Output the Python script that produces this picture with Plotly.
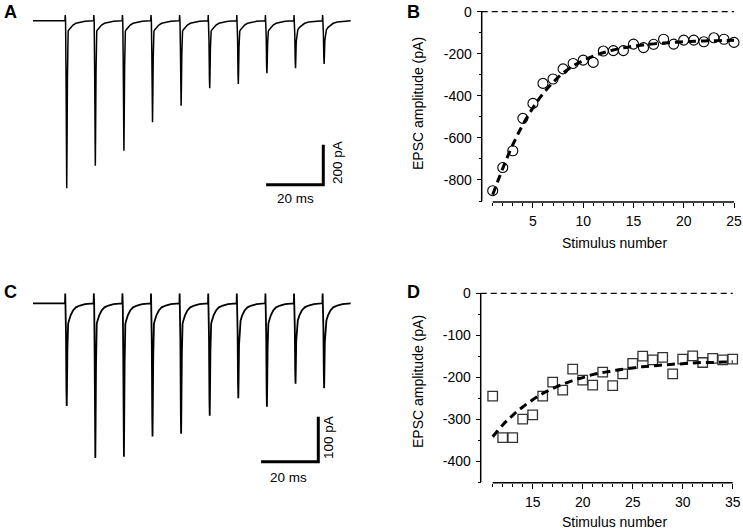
import numpy as np
import plotly.graph_objects as go

W, H = 743, 531

# ---------------- data ----------------
# Panels A / C : EPSC trains (100 Hz), peak amplitudes (pA)
A_AMPLITUDES_PA = [838, 725, 650, 508, 425, 338, 316, 263, 238, 216]
C_AMPLITUDES_PA = [228, 344, 341, 296, 290, 250, 211, 230, 179, 189]
STIM_INTERVAL_MS = 10
TRACE_START_MS = -11.2
TRACE_END_MS = 99.5
# waveform templates (time after stimulus, ms)
FAST_T_MS = [0.0, 0.2, 0.35, 0.5, 0.6, 0.7, 0.85, 1.0, 1.1]
FAST_FRACTION = [0.0, 0.0, 0.3, 0.85, 1.0, 0.75, 0.3, 0.08, 0.0]
ARTIFACT_T_MS = [0.0, 0.08, 0.18]
ARTIFACT_FRACTION = [0.0, 1.0, 0.0]
A_ARTIFACT_PA = 28
C_ARTIFACT_PA = 22
TAIL_T_MS = [0.0, 0.6, 1.0, 1.4, 2.0, 2.8, 3.8, 5.2, 7.0, 9.9]
A_TAIL_PA = [0, 0, -55, -45, -33, -22, -13, -7, -3, 0]
C_TAIL_PA = [0, 0, -48, -38, -26, -16, -9, -5, -2, 0]
A_SCALE_MS, A_SCALE_PA = 20, 200
C_SCALE_MS, C_SCALE_PA = 20, 100

# Panel B
B_STIM = list(range(1, 26))
B_AMP = [-851, -741, -661, -507, -436, -341, -320, -272, -246, -230,
         -241, -187, -185, -185, -154, -171, -155, -131, -154, -135,
         -135, -143, -124, -131, -146]
B_FIT = [-870, -745, -632, -537, -457, -390, -336, -292, -258, -232,
         -211, -195, -182, -172, -164, -158, -153, -149, -146, -143,
         -141, -139, -138, -137, -136]
B_YTICKS = [0, -200, -400, -600, -800]
B_YMINOR = [-100, -300, -500, -700, -900]
B_XTICKS = [5, 10, 15, 20, 25]

# Panel D
D_STIM = list(range(11, 36))
D_AMP = [-245, -344, -344, -300, -290, -245, -212, -231, -181, -207,
         -219, -188, -220, -192, -167, -150, -159, -153, -192, -157,
         -149, -165, -155, -159, -157]
D_FIT = [-342, -314, -291, -271, -254, -239, -227, -217, -208, -201,
         -194, -189, -185, -181, -178, -175, -173, -171, -169, -168,
         -166, -165, -165, -164, -163]
D_YTICKS = [0, -100, -200, -300, -400]
D_YMINOR = [-50, -150, -250, -350, -450]
D_XTICKS = [15, 20, 25, 30, 35]

FONT = "Arial, Liberation Sans, sans-serif"


# ---------------- helpers ----------------
def fx(px):
    return px / W


def fy(py):
    return 1 - py / H


def lin_range(v_a, p_a, v_b, p_b, p_lo, p_hi):
    """axis range so that value v_a sits at pixel p_a and v_b at p_b"""
    s = (v_b - v_a) / (p_b - p_a)
    return [v_a + (p_lo - p_a) * s, v_a + (p_hi - p_a) * s]


def build_trace(amps, art_pa, tail_pa):
    stims = [k * STIM_INTERVAL_MS for k in range(len(amps))]
    tt = [TRACE_START_MS, TRACE_END_MS]
    for s in stims:
        tt += [s + v for v in FAST_T_MS + ARTIFACT_T_MS + TAIL_T_MS]
    t = np.unique(np.array(tt))
    y = np.zeros_like(t)
    for s, a in zip(stims, amps):
        y -= a * np.interp(t - s, FAST_T_MS, FAST_FRACTION, left=0, right=0)
        y += art_pa * np.interp(t - s, ARTIFACT_T_MS, ARTIFACT_FRACTION, left=0, right=0)
        y += np.interp(t - s, TAIL_T_MS, tail_pa, left=0, right=0)
    return t, y


fig = go.Figure()

# ---------------- panel A ----------------
PX_PER_MS = 2.86
STIM0_PX = 65
tA, IA = build_trace(A_AMPLITUDES_PA, A_ARTIFACT_PA, A_TAIL_PA)
fig.add_trace(go.Scatter(x=tA, y=IA, mode="lines", line=dict(color="black", width=1.5),
                         xaxis="x", yaxis="y", hoverinfo="skip", showlegend=False))
a_bar_x1 = (323.3 - STIM0_PX) / PX_PER_MS
a_bar_y = -820
fig.add_trace(go.Scatter(x=[a_bar_x1 - A_SCALE_MS, a_bar_x1, a_bar_x1],
                         y=[a_bar_y, a_bar_y, a_bar_y + A_SCALE_PA], mode="lines",
                         line=dict(color="black", width=3), xaxis="x", yaxis="y",
                         hoverinfo="skip", showlegend=False))

# ---------------- panel C ----------------
tC, IC = build_trace(C_AMPLITUDES_PA, C_ARTIFACT_PA, C_TAIL_PA)
fig.add_trace(go.Scatter(x=tC, y=IC, mode="lines", line=dict(color="black", width=1.8),
                         xaxis="x3", yaxis="y3", hoverinfo="skip", showlegend=False))
c_bar_x1 = (318.3 - STIM0_PX) / PX_PER_MS
c_bar_y = -352
fig.add_trace(go.Scatter(x=[c_bar_x1 - C_SCALE_MS, c_bar_x1, c_bar_x1],
                         y=[c_bar_y, c_bar_y, c_bar_y + C_SCALE_PA], mode="lines",
                         line=dict(color="black", width=3), xaxis="x3", yaxis="y3",
                         hoverinfo="skip", showlegend=False))

# ---------------- panel B ----------------
fig.add_trace(go.Scatter(x=B_STIM, y=B_AMP, mode="markers", cliponaxis=False,
                         marker=dict(symbol="circle-open", size=10, color="black",
                                     line=dict(width=1.1, color="black")),
                         xaxis="x2", yaxis="y2", showlegend=False))
fig.add_trace(go.Scatter(x=B_STIM, y=B_FIT, mode="lines", line_shape="spline",
                         line=dict(color="black", width=3, dash="8px,5px"),
                         xaxis="x2", yaxis="y2", showlegend=False))

# ---------------- panel D ----------------
fig.add_trace(go.Scatter(x=D_STIM, y=D_AMP, mode="markers", cliponaxis=False,
                         marker=dict(symbol="square-open", size=9.5, color="#333333",
                                     line=dict(width=1.3, color="#333333")),
                         xaxis="x4", yaxis="y4", showlegend=False))
fig.add_trace(go.Scatter(x=D_STIM, y=D_FIT, mode="lines", line_shape="spline",
                         line=dict(color="black", width=3, dash="8px,5px"),
                         xaxis="x4", yaxis="y4", showlegend=False))

# ---------------- axes ----------------
hidden = dict(visible=False, showgrid=False, zeroline=False)

A_DOM_X, A_DOM_Y = (20, 380), (0, 262)
C_DOM_X, C_DOM_Y = (20, 380), (268, 500)
A_BASE_PY, A_PY_PER_PA = 20.7, 0.2
C_BASE_PY, C_PY_PER_PA = 303.3, 0.45


def trace_axes(dom_x, dom_y, base_py, py_per_pa):
    xr = lin_range(0, STIM0_PX, 10, STIM0_PX + 10 * PX_PER_MS, dom_x[0], dom_x[1])
    yr = lin_range(0, base_py, -100, base_py + 100 * py_per_pa, dom_y[1], dom_y[0])
    xa = dict(hidden, domain=[fx(dom_x[0]), fx(dom_x[1])], range=xr)
    ya = dict(hidden, domain=[fy(dom_y[1]), fy(dom_y[0])], range=yr)
    return xa, ya


xa1, ya1 = trace_axes(A_DOM_X, A_DOM_Y, A_BASE_PY, A_PY_PER_PA)
xa3, ya3 = trace_axes(C_DOM_X, C_DOM_Y, C_BASE_PY, C_PY_PER_PA)
xa3["anchor"] = "y3"
ya3["anchor"] = "x3"

tickfont = dict(family=FONT, size=14, color="black")


def data_axes(x_first, x_last, px_first, px_last, y0_py, ymin, ymin_py,
              yaxis_px, xaxis_py, dom_x, dom_y, xticks, yticks, yminor, xname, yname):
    xr = lin_range(x_first, px_first, x_last, px_last, dom_x[0], dom_x[1])
    yr = lin_range(0, y0_py, ymin, ymin_py, dom_y[1], dom_y[0])
    xa = dict(domain=[fx(dom_x[0]), fx(dom_x[1])], range=xr, anchor="free",
              position=fy(xaxis_py), showline=False, showgrid=False, zeroline=False,
              tickmode="array", tickvals=xticks, ticks="outside", ticklen=5,
              tickwidth=1.3, tickcolor="black", tickfont=tickfont, ticklabelstandoff=1,
              minor=dict(tickvals=[v for v in range(x_first, x_last + 1) if v not in xticks],
                         ticks="outside", ticklen=3, tickwidth=1.1, tickcolor="black"))
    ya = dict(domain=[fy(dom_y[1]), fy(dom_y[0])], range=yr, anchor="free",
              position=fx(yaxis_px), showline=False, showgrid=False, zeroline=False,
              tickmode="array", tickvals=yticks, ticktext=[str(v) for v in yticks],
              ticks="outside", ticklen=5, tickwidth=1.3, tickcolor="black",
              tickfont=tickfont, ticklabelstandoff=2,
              minor=dict(tickvals=yminor, ticks="outside", ticklen=3, tickwidth=1.1,
                         tickcolor="black"))
    # axis lines as shapes (x axis starts at first stimulus, detached from y axis)
    shapes = [
        dict(type="line", xref=xname, yref="paper", x0=x_first, x1=x_last,
             y0=fy(xaxis_py), y1=fy(xaxis_py), line=dict(color="black", width=1.5)),
        dict(type="line", xref="paper", yref=yname, x0=fx(yaxis_px), x1=fx(yaxis_px),
             y0=0, y1=ymin, line=dict(color="black", width=1.5)),
    ]
    yaxis_data_x = x_first + (yaxis_px - px_first) * (x_last - x_first) / (px_last - px_first)
    shapes.append(dict(type="line", xref=xname, yref=yname, x0=yaxis_data_x, x1=x_last,
                       y0=0, y1=0, line=dict(color="black", width=1.2, dash="6px,4px")))
    return xa, ya, shapes


xa2, ya2, sh2 = data_axes(1, 25, 492.7, 734.0, 11.7, -900, 201.0, 481.7, 202.0,
                          (470, 742), (0, 215), B_XTICKS, B_YTICKS, B_YMINOR, "x2", "y2")
xa4, ya4, sh4 = data_axes(11, 35, 492.7, 732.7, 293.3, -450, 482.0, 480.7, 482.7,
                          (470, 742), (280, 500), D_XTICKS, D_YTICKS, D_YMINOR, "x4", "y4")


def ann(text, px, py, size=14, bold=False, angle=0):
    return dict(text=f"<b>{text}</b>" if bold else text, x=fx(px), y=fy(py),
                xref="paper", yref="paper", showarrow=False, textangle=angle,
                xanchor="center", yanchor="middle",
                font=dict(family=FONT, size=size, color="black"))


annotations = [
    ann("A", 10, 12, 18, True), ann("B", 413, 12, 18, True),
    ann("C", 10, 292, 18, True), ann("D", 413, 292, 18, True),
    ann(f"{A_SCALE_MS} ms", 295, 198, 13.5), ann(f"{A_SCALE_PA} pA", 337, 163, 13.5, angle=-90),
    ann(f"{C_SCALE_MS} ms", 288, 477, 13.5), ann(f"{C_SCALE_PA} pA", 328, 438, 13.5, angle=-90),
    ann("EPSC amplitude (pA)", 418, 104, 14, angle=-90),
    ann("EPSC amplitude (pA)", 418, 382, 14, angle=-90),
    ann("Stimulus number", 614, 243, 14),
    ann("Stimulus number", 614, 522, 14),
]

fig.update_layout(
    width=W, height=H, margin=dict(l=0, r=0, t=0, b=0),
    paper_bgcolor="white", plot_bgcolor="rgba(0,0,0,0)",
    xaxis=xa1, yaxis=ya1,
    xaxis2=xa2, yaxis2=ya2,
    xaxis3=xa3, yaxis3=ya3,
    xaxis4=xa4, yaxis4=ya4,
    shapes=sh2 + sh4, annotations=annotations,
    showlegend=False, font=dict(family=FONT, color="black"),
)

fig.write_html("out.html", config={"displayModeBar": False},
               post_script="document.body.style.margin='0';document.body.style.overflow='hidden';")
